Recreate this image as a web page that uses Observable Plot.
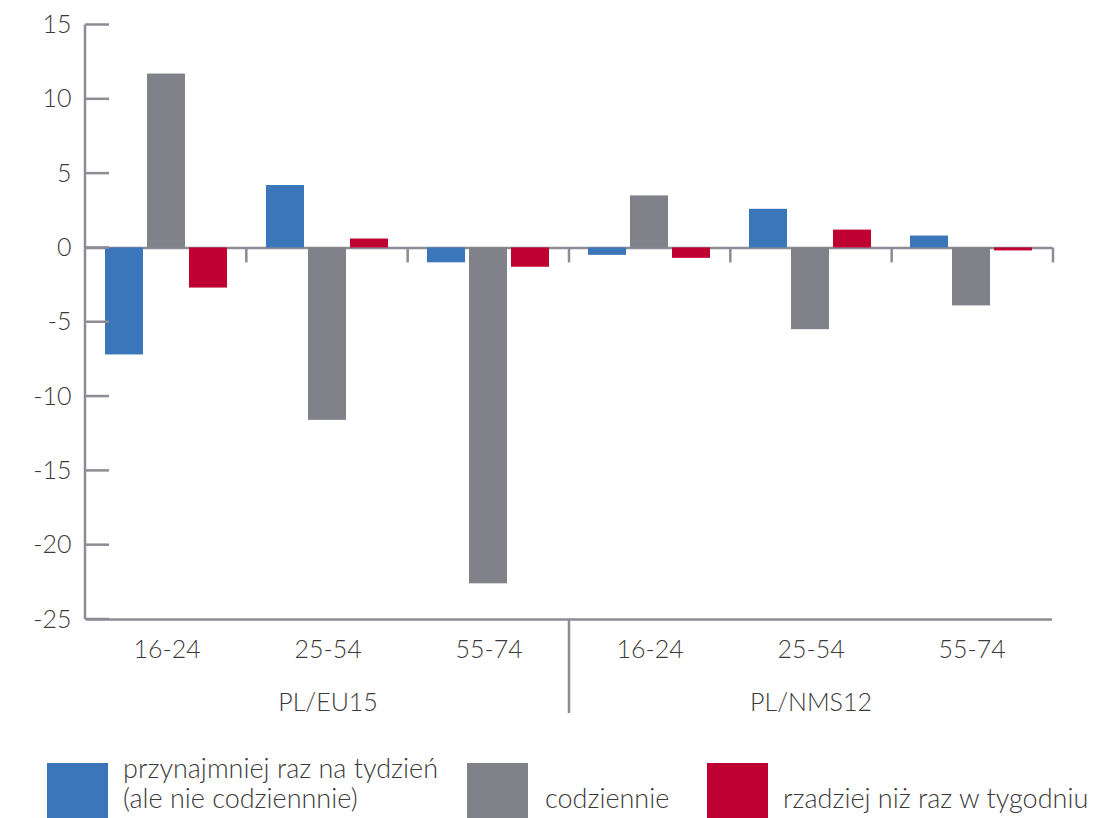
<!DOCTYPE html>
<html>
<head>
<meta charset="utf-8">
<script src="https://cdn.jsdelivr.net/npm/d3@7"></script>
<script src="https://cdn.jsdelivr.net/npm/@observablehq/plot@0.6"></script>
<style>
  body { margin: 0; background: #fff; font-family: Lato, "Open Sans", sans-serif; font-weight: 300; color: #3a3a3a; }
  #wrap { width: 1109px; }
  #legend { position: relative; width: 1109px; height: 68px; font-size: 27px; line-height: 30px; }
  .sw { position: absolute; top: 13px; width: 61px; height: 55px; }
  .lb { position: absolute; white-space: nowrap; }
</style>
</head>
<body>
<div id="wrap">
  <div id="chart"></div>
  <div id="legend"></div>
</div>
<script>
// ---- data ----
const groups = ["PL/EU15", "PL/NMS12"];
const ages = ["16-24", "25-54", "55-74"];
const seriesNames = [
  "przynajmniej raz na tydzień (ale nie codziennnie)",
  "codziennie",
  "rzadziej niż raz w tygodniu"
];
const weekly = [-7.2, 4.2, -1.0, -0.5, 2.6, 0.8];
const daily  = [11.7, -11.6, -22.6, 3.5, -5.5, -3.9];
const rarely = [-2.7, 0.6, -1.3, -0.7, 1.2, -0.2];
const yTicks = [-25, -20, -15, -10, -5, 0, 5, 10, 15];
const colors = ["#3b76bb", "#818189", "#be0032"];

// ---- build table ----
const keys = groups.flatMap(g => ages.map(a => g + "|" + a));
const seriesValues = [weekly, daily, rarely];
const rows = [];
keys.forEach((k, i) => {
  seriesNames.forEach((s, j) => rows.push({key: k, series: s, value: seriesValues[j][i]}));
});
const groupLabelRows = groups.map(g => ({key: g + "|" + ages[1], label: g}));

const axisColor = "#8c8c94";
const textColor = "#3a3a3a";
const font = "Lato, 'Open Sans', sans-serif";

const chart = Plot.plot({
  width: 1109,
  height: 750,
  marginLeft: 85,
  marginRight: 56,
  marginTop: 24.5,
  marginBottom: 131,
  style: {fontFamily: font, fontSize: "25px", color: textColor, background: "white", fontWeight: 300},
  fx: {domain: keys, padding: 0, label: null},
  x: {domain: seriesNames, paddingInner: 0.086, paddingOuter: 0.419, axis: null},
  y: {domain: [-25, 15], axis: null},
  color: {domain: seriesNames, range: colors},
  marks: [
    Plot.ruleY([0, -25], {stroke: axisColor, strokeWidth: 2.5}),
    Plot.barY(rows, {fx: "key", x: "series", y: "value", fill: "series"}),
    Plot.axisY({ticks: yTicks, tickSize: 0, tickPadding: 15, tickFormat: d => String(d), fontSize: 25, label: null, fill: textColor}),
    Plot.axisFx({anchor: "bottom", tickSize: 0, tickPadding: 21, tickFormat: k => k.split("|")[1], fontSize: 25, label: null, fill: textColor}),
    Plot.text(groupLabelRows, {fx: "key", text: "label", frameAnchor: "bottom", dy: 91, fontSize: 25, fill: textColor})
  ]
});
document.getElementById("chart").appendChild(chart);

// ---- axis decorations from the plot's own scales ----
const fxS = chart.scale("fx"), yS = chart.scale("y");
const fxb = d3.scaleBand(fxS.domain, fxS.range).paddingInner(0).paddingOuter(0);
const yl = d3.scaleLinear(yS.domain, yS.range);
const svg = d3.select(chart.tagName.toLowerCase() === "svg" ? chart : chart.querySelector("svg"));
const deco = svg.append("g").attr("stroke", axisColor).attr("stroke-width", 2.5).attr("fill", "none");
const x0 = fxS.range[0];
deco.append("line").attr("x1", x0).attr("x2", x0).attr("y1", yl(15)).attr("y2", yl(-25));
yTicks.forEach(t => deco.append("line").attr("x1", x0).attr("x2", x0 + 24).attr("y1", yl(t)).attr("y2", yl(t)));
keys.forEach(k => {
  const xb = fxb(k) + fxb.bandwidth();
  deco.append("line").attr("x1", xb).attr("x2", xb).attr("y1", yl(0)).attr("y2", yl(0) + 15);
});
const sepX = fxb(keys[ages.length]);
deco.append("line").attr("x1", sepX).attr("x2", sepX).attr("y1", yl(-25)).attr("y2", yl(-25) + 94);

// ---- legend ----
const legend = document.getElementById("legend");
const swLeft = [47, 467, 707];
const lbLeft = [123, 545, 783];
const lbText = ["przynajmniej raz na tydzień<br>(ale nie codziennnie)", "codziennie", "rzadziej niż raz w tygodniu"];
seriesNames.forEach((s, i) => {
  const sw = document.createElement("div");
  sw.className = "sw"; sw.style.left = swLeft[i] + "px"; sw.style.background = colors[i];
  legend.appendChild(sw);
  const lb = document.createElement("div");
  lb.className = "lb"; lb.style.left = lbLeft[i] + "px";
  lb.style.top = i === 0 ? "3px" : "33px";
  lb.innerHTML = lbText[i];
  legend.appendChild(lb);
});
</script>
</body>
</html>
